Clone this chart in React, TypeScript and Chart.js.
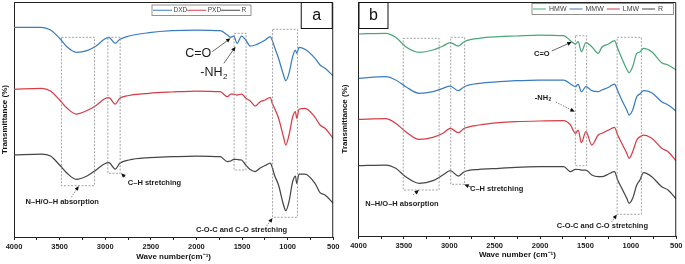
import React, { useEffect, useRef } from 'react';
import { Chart, registerables } from 'chart.js';

Chart.register(...registerables);

const FONT = '"Liberation Sans", Arial, Helvetica, sans-serif';

// x-axis ticks (every 250 cm-1, labels every 500)
const xTickValues = [4000, 3750, 3500, 3250, 3000, 2750, 2500, 2250, 2000, 1750, 1500, 1250, 1000, 750, 500];

// ---------- Panel a ----------
const waveA = [4000, 3700, 3600, 3500, 3420, 3320, 3200, 3100, 3010, 2960, 2890, 2840, 2740, 2520, 2270, 2000, 1740, 1660, 1625, 1590, 1555, 1505, 1460, 1410, 1355, 1300, 1245, 1190, 1170, 1145, 1100, 1045, 1020, 985, 945, 915, 900, 875, 810, 700, 645, 590, 500];
const dxdA = [212.7, 212.7, 210, 201.7, 193.3, 187.7, 189.3, 194, 200.7, 202.7, 196.7, 200.7, 204, 207.3, 209.3, 210, 209.3, 205, 202.7, 204, 196.7, 204, 200, 194, 195, 197.3, 200, 203.3, 200, 193.3, 181.7, 165, 159.3, 166.7, 183.3, 190, 186.7, 192.7, 190.7, 181.7, 175, 171.7, 164];
const pxdA = [150.7, 151.7, 149, 140, 132, 126, 129.5, 134.5, 141, 142.3, 136, 141.7, 144.5, 146.7, 148, 149, 148.3, 143.3, 146, 146, 145, 146, 142, 139, 134, 138.3, 140, 142.7, 137, 132, 122, 103, 95, 105, 123, 128.3, 121.7, 130.7, 131.7, 122.7, 115, 111.7, 101.5];
const rA = [85, 86, 84, 75, 67, 60.7, 64, 70, 76, 77.3, 71, 76.7, 80, 82.3, 83.3, 84, 83.3, 78.5, 79, 80.7, 80.5, 80, 75, 70.5, 68.5, 72, 74.5, 77, 73, 65, 55, 35, 29.3, 38.3, 58.3, 64, 56.7, 66, 66, 56.7, 47.3, 45, 36.7];
const labelsA = ['DXD', 'PXD', 'R'];

// ---------- Panel b ----------
const waveB = [4000, 3700, 3590, 3480, 3330, 3180, 3070, 2990, 2900, 2835, 2670, 2450, 2270, 2010, 1740, 1665, 1610, 1580, 1545, 1495, 1430, 1360, 1320, 1245, 1180, 1145, 1100, 1045, 1020, 980, 935, 900, 860, 770, 660, 590, 500];
const hmwB = [206, 206.7, 202.7, 193.3, 187.7, 190, 194, 197.3, 194, 198.3, 201.7, 203.3, 204, 205, 204.3, 199.3, 196, 198.3, 188.3, 197.3, 193.3, 186.7, 192.7, 196, 199.3, 191.7, 181.7, 170.7, 167.3, 173.3, 186.7, 188, 191.7, 188.3, 177.3, 175, 170];
const mmwB = [161.7, 163.3, 160, 153.3, 146.7, 148.3, 151.7, 154, 149.3, 153.3, 156.7, 158.3, 159.3, 160, 160, 156, 153.3, 155.7, 148.3, 153.3, 149.3, 148.3, 150, 152.7, 156, 149.3, 140, 130, 125, 130, 143.3, 146, 149.3, 147.3, 138.3, 135, 129];
const lmwB = [120.7, 121.3, 116.7, 108.3, 100.7, 102.7, 106.7, 111.7, 107.3, 111.7, 115, 117.3, 118.3, 119, 119.3, 115, 106.7, 110, 97.3, 108.3, 95, 105, 106.7, 110, 112.7, 105, 96.7, 86.7, 81.7, 88.3, 100, 103.3, 105, 101.7, 91.7, 88.3, 79];
const rB = [74.3, 75, 71.7, 63.3, 56.7, 59.3, 65, 69.3, 64, 68.3, 70.7, 71.7, 72.7, 73.3, 73.3, 68.3, 70.7, 70.5, 70, 70, 65, 63.3, 63.3, 66, 68.3, 60, 51.7, 41.7, 36.7, 41.7, 55, 60, 67.3, 63.3, 53.3, 50, 41];
const labelsB = ['HMW', 'MMW', 'LMW', 'R'];

const BLUE = '#3a7dbf';
const RED = '#d73d47';
const DARK = '#464646';
const GREEN = '#48a877';

// annotation boxes: [wave high, wave low, value top, value bottom]
const boxesA = [
  [3480, 3117, 202.7, 54.3],
  [2971, 2836, 202.7, 66.7],
  [1587, 1456, 206.7, 70],
  [1165, 892, 210.7, 22.7],
];
const boxesB = [
  [3507, 3112, 201.7, 50],
  [2984, 2831, 202.7, 55.7],
  [1611, 1487, 204.3, 74.3],
  [1151, 884, 202.7, 25.7],
];

const notesA = [
  { text: 'N–H/O–H absorption', w: 3471, v: 37.7, size: 7.5, bold: true },
  { text: 'C–H stretching', w: 2460, v: 56.7, size: 7.5, bold: true },
  { text: 'C=O', w: 1980, v: 186.8, size: 12.5, bold: false },
  { text: '-NH', sub: '2', w: 1835, v: 167.5, size: 12.5, bold: false },
  { text: 'C-O-C and C-O stretching', w: 1505, v: 10.5, size: 7.5, bold: true },
];
const arrowsA = [
  { from: [3371, 42.7], to: [3290, 54], dashed: true },
  { from: [2779, 62.7], to: [2826, 66.7], dashed: false },
  { from: [1827, 188.3], to: [1626, 201.7], dashed: false },
  { from: [1699, 176.7], to: [1571, 193.3], dashed: false },
  { from: [1230, 14], to: [1165, 22], dashed: true },
];

const notesB = [
  { text: 'N–H/O–H absorption', w: 3522, v: 36, size: 7.5, bold: true },
  { text: 'C–H stretching', w: 2478, v: 51, size: 7.5, bold: true },
  { text: 'C=O', w: 1980, v: 186, size: 7.5, bold: true },
  { text: '-NH', sub: '2', w: 1985, v: 142.5, size: 7.5, bold: true },
  { text: 'C-O-C and C-O stretching', w: 1314, v: 14, size: 7.5, bold: true },
];
const arrowsB = [
  { from: [3400, 45], to: [3334, 50], dashed: true },
  { from: [2760, 53], to: [2836, 55.5], dashed: false },
  { from: [1871, 189], to: [1651, 198], dashed: false },
  { from: [1827, 138], to: [1618, 128.3], dashed: true },
  { from: [1212, 18], to: [1154, 25.5], dashed: true },
];

function drawArrow(ctx, x1, y1, x2, y2, dashed) {
  ctx.save();
  ctx.strokeStyle = dashed ? '#666' : '#444';
  ctx.fillStyle = '#111';
  ctx.lineWidth = 0.8;
  ctx.setLineDash(dashed ? [1.5, 1.2] : []);
  const ang = Math.atan2(y2 - y1, x2 - x1);
  const hl = 4.5;
  const hw = 2;
  ctx.beginPath();
  ctx.moveTo(x1, y1);
  ctx.lineTo(x2 - Math.cos(ang) * hl * 0.8, y2 - Math.sin(ang) * hl * 0.8);
  ctx.stroke();
  ctx.setLineDash([]);
  ctx.beginPath();
  ctx.moveTo(x2, y2);
  ctx.lineTo(x2 - Math.cos(ang) * hl - Math.sin(ang) * hw, y2 - Math.sin(ang) * hl + Math.cos(ang) * hw);
  ctx.lineTo(x2 - Math.cos(ang) * hl + Math.sin(ang) * hw, y2 - Math.sin(ang) * hl - Math.cos(ang) * hw);
  ctx.closePath();
  ctx.fill();
  ctx.restore();
}

function decorPlugin(cfg) {
  return {
    id: 'decor',
    afterDraw(chart) {
      const { ctx, chartArea: a, scales } = chart;
      const X = (w) => scales.x.getPixelForValue(w);
      const Y = (v) => scales.y.getPixelForValue(v);
      ctx.save();
      // frame (top, right)
      ctx.strokeStyle = '#222';
      ctx.lineWidth = 1;
      ctx.beginPath();
      ctx.moveTo(a.left, a.top + 0.5);
      ctx.lineTo(a.right - 0.5, a.top + 0.5);
      ctx.lineTo(a.right - 0.5, a.bottom);
      ctx.stroke();

      // dotted boxes
      ctx.save();
      ctx.setLineDash([2, 1.5]);
      ctx.strokeStyle = '#8c8c8c';
      ctx.lineWidth = 0.8;
      for (const b of cfg.boxes) {
        const x1 = X(b[0]);
        const x2 = X(b[1]);
        const y1 = Y(b[2]);
        const y2 = Y(b[3]);
        ctx.strokeRect(x1, y1, x2 - x1, y2 - y1);
      }
      ctx.restore();

      // arrows
      for (const ar of cfg.arrows) {
        drawArrow(ctx, X(ar.from[0]), Y(ar.from[1]), X(ar.to[0]), Y(ar.to[1]), ar.dashed);
      }

      // notes
      ctx.fillStyle = '#1a1a1a';
      ctx.textBaseline = 'middle';
      for (const n of cfg.notes) {
        const f = `${n.bold ? 'bold ' : ''}${n.size}px ${FONT}`;
        ctx.font = f;
        const x = X(n.w);
        const y = Y(n.v);
        if (n.sub) {
          const mw = ctx.measureText(n.text).width;
          ctx.textAlign = 'left';
          ctx.fillText(n.text, x - mw / 2, y);
          ctx.font = `${n.bold ? 'bold ' : ''}${n.size * 0.65}px ${FONT}`;
          ctx.fillText(n.sub, x + mw / 2 + 0.3, y + n.size * 0.35);
        } else {
          ctx.textAlign = 'center';
          ctx.fillText(n.text, x, y);
        }
      }

      // panel letter box
      const L = cfg.letter;
      const bw = L.w;
      const bh = 26;
      const bx = L.side === 'right' ? a.right - bw - 1.5 : a.left;
      const by = a.top;
      ctx.strokeStyle = '#111';
      ctx.lineWidth = 1;
      ctx.strokeRect(bx + 0.5, by + 0.5, bw, bh);
      ctx.fillStyle = '#111';
      ctx.font = `16px ${FONT}`;
      ctx.textAlign = 'center';
      ctx.textBaseline = 'middle';
      ctx.fillText(L.text, bx + bw / 2 + 0.5, by + bh / 2 + 1);

      // legend
      const lg = cfg.legend;
      ctx.strokeStyle = '#777';
      ctx.lineWidth = 0.8;
      ctx.strokeRect(lg.x + 0.5, lg.y + 0.5, lg.w, lg.h);
      ctx.font = `${lg.size}px ${FONT}`;
      ctx.textAlign = 'left';
      ctx.textBaseline = 'middle';
      let cx = lg.x + 1.5;
      const cy = lg.y + lg.h / 2 + 0.5;
      chart.data.datasets.forEach((ds) => {
        ctx.strokeStyle = ds.borderColor;
        ctx.lineWidth = 1;
        ctx.beginPath();
        ctx.moveTo(cx, cy);
        ctx.lineTo(cx + lg.lineLen, cy);
        ctx.stroke();
        cx += lg.lineLen + lg.gapBefore;
        ctx.fillStyle = '#444';
        ctx.fillText(ds.label, cx, cy);
        cx += ctx.measureText(ds.label).width + lg.gapAfter;
      });
      ctx.restore();
    },
  };
}

function buildConfig(cfg) {
  return {
    type: 'line',
    data: {
      datasets: cfg.series.map((s) => ({
        label: s.label,
        data: cfg.wave.map((w, i) => ({ x: w, y: s.values[i] })),
        borderColor: s.color,
        backgroundColor: s.color,
        borderWidth: 1.25,
        pointRadius: 0,
        cubicInterpolationMode: 'monotone',
        fill: false,
      })),
    },
    options: {
      animation: false,
      responsive: false,
      maintainAspectRatio: false,
      events: [],
      layout: { padding: { top: cfg.padTop, right: cfg.padRight, left: 0, bottom: 0 } },
      plugins: { legend: { display: false }, tooltip: { enabled: false }, title: { display: false } },
      scales: {
        x: {
          type: 'linear',
          reverse: true,
          min: 500,
          max: 4000,
          afterFit: (s) => {
            s.height = cfg.xAxisH;
          },
          afterBuildTicks: (s) => {
            s.ticks = xTickValues.map((v) => ({ value: v }));
          },
          ticks: {
            autoSkip: false,
            maxRotation: 0,
            padding: 2.5,
            color: '#1a1a1a',
            font: { family: FONT, size: 7.5, weight: 'bold' },
            callback: (v) => (v % 500 === 0 ? String(v) : ''),
          },
          grid: { drawOnChartArea: false, drawTicks: true, tickLength: 3, color: '#222', lineWidth: 1 },
          border: { display: true, color: '#222', width: 1 },
          title: {
            display: true,
            text: cfg.xTitle,
            color: '#111',
            font: { family: FONT, size: 8, weight: 'bold' },
            padding: { top: 0, bottom: cfg.xTitlePadBottom },
          },
        },
        y: {
          min: cfg.yMin,
          max: cfg.yMax,
          afterFit: (s) => {
            s.width = cfg.yAxisW;
          },
          ticks: { display: false },
          grid: { display: false },
          border: { display: true, color: '#222', width: 1 },
          title: {
            display: true,
            text: 'Transmittance (%)',
            color: '#111',
            font: { family: FONT, size: 8, weight: 'bold' },
            padding: { top: 0, bottom: 0 },
          },
        },
      },
    },
    plugins: [decorPlugin(cfg)],
  };
}

const panelA = {
  wave: waveA,
  series: [
    { label: labelsA[0], values: dxdA, color: BLUE },
    { label: labelsA[1], values: pxdA, color: RED },
    { label: labelsA[2], values: rA, color: DARK },
  ],
  boxes: boxesA,
  notes: notesA,
  arrows: arrowsA,
  letter: { text: 'a', side: 'right', w: 31 },
  legend: { x: 151.5, y: 4.5, w: 99, h: 10.5, size: 6.5, lineLen: 19, gapBefore: 1.5, gapAfter: 0 },
  xTitle: 'Wave number(cm⁻¹)',
  xTitlePadBottom: 2.2,
  padTop: 2,
  padRight: 7.7,
  xAxisH: 27,
  yAxisW: 14,
  yMin: 3,
  yMax: 238,
};

const panelB = {
  wave: waveB,
  series: [
    { label: labelsB[0], values: hmwB, color: GREEN },
    { label: labelsB[1], values: mmwB, color: BLUE },
    { label: labelsB[2], values: lmwB, color: RED },
    { label: labelsB[3], values: rB, color: DARK },
  ],
  boxes: boxesB,
  notes: notesB,
  arrows: arrowsB,
  letter: { text: 'b', side: 'left', w: 29 },
  legend: { x: 191.5, y: 3, w: 141.5, h: 11, size: 7, lineLen: 13, gapBefore: 3, gapAfter: 3 },
  xTitle: 'Wave number (cm⁻¹)',
  xTitlePadBottom: 4,
  padTop: 2,
  padRight: 8,
  xAxisH: 28,
  yAxisW: 18.5,
  yMin: 4,
  yMax: 238,
};

function Panel({ cfg, left, width }) {
  const ref = useRef(null);
  useEffect(() => {
    const chart = new Chart(ref.current, buildConfig(cfg));
    return () => chart.destroy();
  }, []);
  return (
    <canvas
      ref={ref}
      width={width}
      height={264}
      style={{ position: 'absolute', left, top: 0, width, height: 264 }}
    />
  );
}

export default function App() {
  return (
    <div style={{ position: 'fixed', left: 0, top: 0, width: 685, height: 264, background: '#fff', overflow: 'hidden' }}>
      <Panel cfg={panelA} left={0} width={342} />
      <Panel cfg={panelB} left={340} width={345} />
    </div>
  );
}
